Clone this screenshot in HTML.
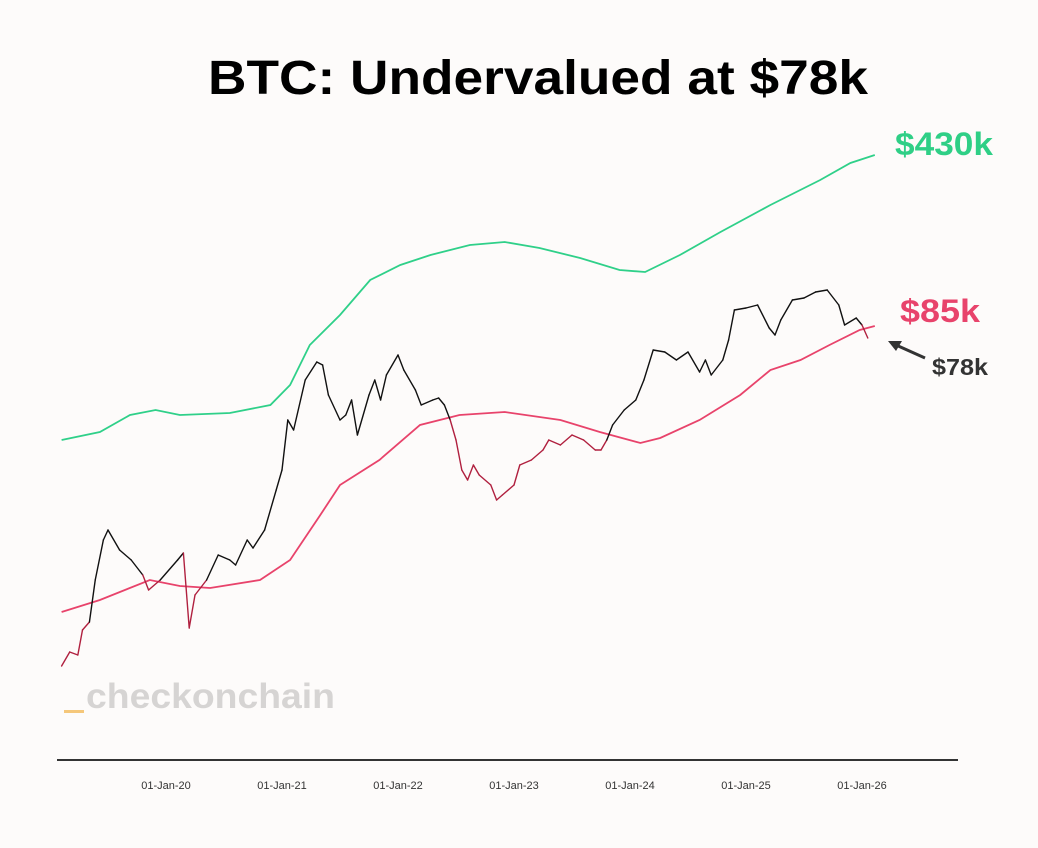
<!DOCTYPE html>
<html><head><meta charset="utf-8"><style>
html,body{margin:0;padding:0;background:#fdfbfa;}
svg{display:block;font-family:"Liberation Sans",sans-serif;}
</style></head><body>
<svg id="chart" width="1038" height="848" viewBox="0 0 1038 848">
<rect width="1038" height="848" fill="#fdfbfa"/>
<text x="538" y="94" text-anchor="middle" font-size="48" font-weight="bold" fill="#000" textLength="660" lengthAdjust="spacingAndGlyphs">BTC: Undervalued at $78k</text>
<g id="watermark">
<rect x="64" y="710" width="20" height="3" fill="#f5c77a"/>
<text x="86" y="708" font-size="35" font-weight="bold" fill="#d6d4d3" textLength="249" lengthAdjust="spacingAndGlyphs">checkonchain</text>
</g>
<g id="series"></g>
<line x1="57" y1="760" x2="958" y2="760" stroke="#333" stroke-width="2"/>
<g id="ticks"></g>
<text x="944" y="155" text-anchor="middle" font-size="32" font-weight="bold" fill="#2fcf86" textLength="98" lengthAdjust="spacingAndGlyphs">$430k</text>
<text x="940" y="322" text-anchor="middle" font-size="32" font-weight="bold" fill="#e8436b" textLength="80" lengthAdjust="spacingAndGlyphs">$85k</text>
<text x="960" y="375" text-anchor="middle" font-size="23" font-weight="bold" fill="#333" textLength="56" lengthAdjust="spacingAndGlyphs">$78k</text>
<line x1="925" y1="358" x2="896" y2="345" stroke="#333" stroke-width="3"/>
<polygon points="888,341 902,341 896,351" fill="#333"/>
</svg>
<script>
// x: decimal years; y: level units (chart's log-price scale)
const priceT=[2019.1,2019.17,2019.24,2019.28,2019.34,2019.39,2019.46,2019.5,2019.6,2019.7,2019.8,2019.85,2019.95,2020.1,2020.15,2020.2,2020.25,2020.35,2020.45,2020.55,2020.6,2020.7,2020.75,2020.85,2020.95,2021.0,2021.05,2021.1,2021.2,2021.3,2021.35,2021.4,2021.5,2021.55,2021.6,2021.65,2021.75,2021.8,2021.85,2021.9,2022.0,2022.05,2022.15,2022.2,2022.3,2022.35,2022.4,2022.45,2022.5,2022.55,2022.6,2022.65,2022.7,2022.8,2022.85,2022.9,2023.0,2023.05,2023.15,2023.25,2023.3,2023.4,2023.5,2023.6,2023.7,2023.75,2023.8,2023.85,2023.95,2024.05,2024.12,2024.2,2024.3,2024.4,2024.5,2024.6,2024.65,2024.7,2024.8,2024.85,2024.9,2025.0,2025.1,2025.2,2025.25,2025.3,2025.4,2025.5,2025.6,2025.7,2025.8,2025.85,2025.95,2026.0,2026.05];
const priceV=[104,118,115,140,148,190,230,240,220,210,195,180,190,210,217,142,175,190,215,210,205,230,222,240,280,300,350,340,390,408,405,375,350,355,370,335,375,390,370,395,415,400,380,365,370,372,365,350,330,300,290,305,295,285,270,275,285,305,310,320,330,325,335,330,320,320,330,345,360,370,390,420,418,410,418,398,410,395,410,430,460,462,465,442,435,450,470,472,478,480,465,445,452,445,432];
const redT=[2019.10,2019.43,2019.86,2020.12,2020.38,2020.81,2021.07,2021.33,2021.50,2021.84,2022.19,2022.53,2022.92,2023.40,2023.74,2024.09,2024.26,2024.60,2024.95,2025.21,2025.47,2025.72,2025.98,2026.11];
const redV=[158,170,190,184,182,190,210,255,285,310,345,355,358,350,338,327,332,350,375,400,410,425,440,444];
const greenT=[2019.10,2019.43,2019.69,2019.91,2020.12,2020.55,2020.90,2021.07,2021.24,2021.50,2021.76,2022.02,2022.28,2022.62,2022.92,2023.22,2023.57,2023.91,2024.13,2024.43,2024.78,2025.21,2025.64,2025.90,2026.11];
const greenV=[330,338,355,360,355,357,365,385,425,455,490,505,515,525,528,522,512,500,498,515,538,565,590,607,615];
const tickYears=[2020,2021,2022,2023,2024,2025,2026];
const tickLabels=["01-Jan-20","01-Jan-21","01-Jan-22","01-Jan-23","01-Jan-24","01-Jan-25","01-Jan-26"];

const xs=t=>166+(t-2020)*116;
const ys=v=>770-v;
const NS="http://www.w3.org/2000/svg";
const g=document.getElementById('series');
function interp(T,V,t){if(t<=T[0])return V[0];for(let i=1;i<T.length;i++){if(t<=T[i]){const f=(t-T[i-1])/(T[i]-T[i-1]);return V[i-1]+f*(V[i]-V[i-1]);}}return V[V.length-1];}
function line(T,V,color,w,name){const p=document.createElementNS(NS,'path');


p.setAttribute('d',T.map((t,i)=>(i?'L':'M')+xs(t).toFixed(1)+','+ys(V[i]).toFixed(1)).join(''));
p.setAttribute('fill','none');p.setAttribute('stroke',color);p.setAttribute('stroke-width',w);g.appendChild(p);}
line(greenT,greenV,'#2fd089',1.8,'upper-band-line');
line(redT,redV,'#e8436b',1.8,'lower-band-line');
for(let i=1;i<priceT.length;i++){
 const tm=(priceT[i]+priceT[i-1])/2, vm=(priceV[i]+priceV[i-1])/2;
 const col=vm<interp(redT,redV,tm)?'#b0203f':'#111';
 const s=document.createElementNS(NS,'line');
 
 
 s.setAttribute('x1',xs(priceT[i-1]));s.setAttribute('y1',ys(priceV[i-1]));
 s.setAttribute('x2',xs(priceT[i]));s.setAttribute('y2',ys(priceV[i]));
 s.setAttribute('stroke',col);s.setAttribute('stroke-width','1.4');s.setAttribute('stroke-linecap','round');
 g.appendChild(s);}
const tg=document.getElementById('ticks');
tickYears.forEach((y,i)=>{const t=document.createElementNS(NS,'text');


t.setAttribute('x',xs(y));t.setAttribute('y',789);t.setAttribute('text-anchor','middle');
t.setAttribute('font-size','11');t.setAttribute('fill','#333');t.textContent=tickLabels[i];tg.appendChild(t);});
</script>
</body></html>
